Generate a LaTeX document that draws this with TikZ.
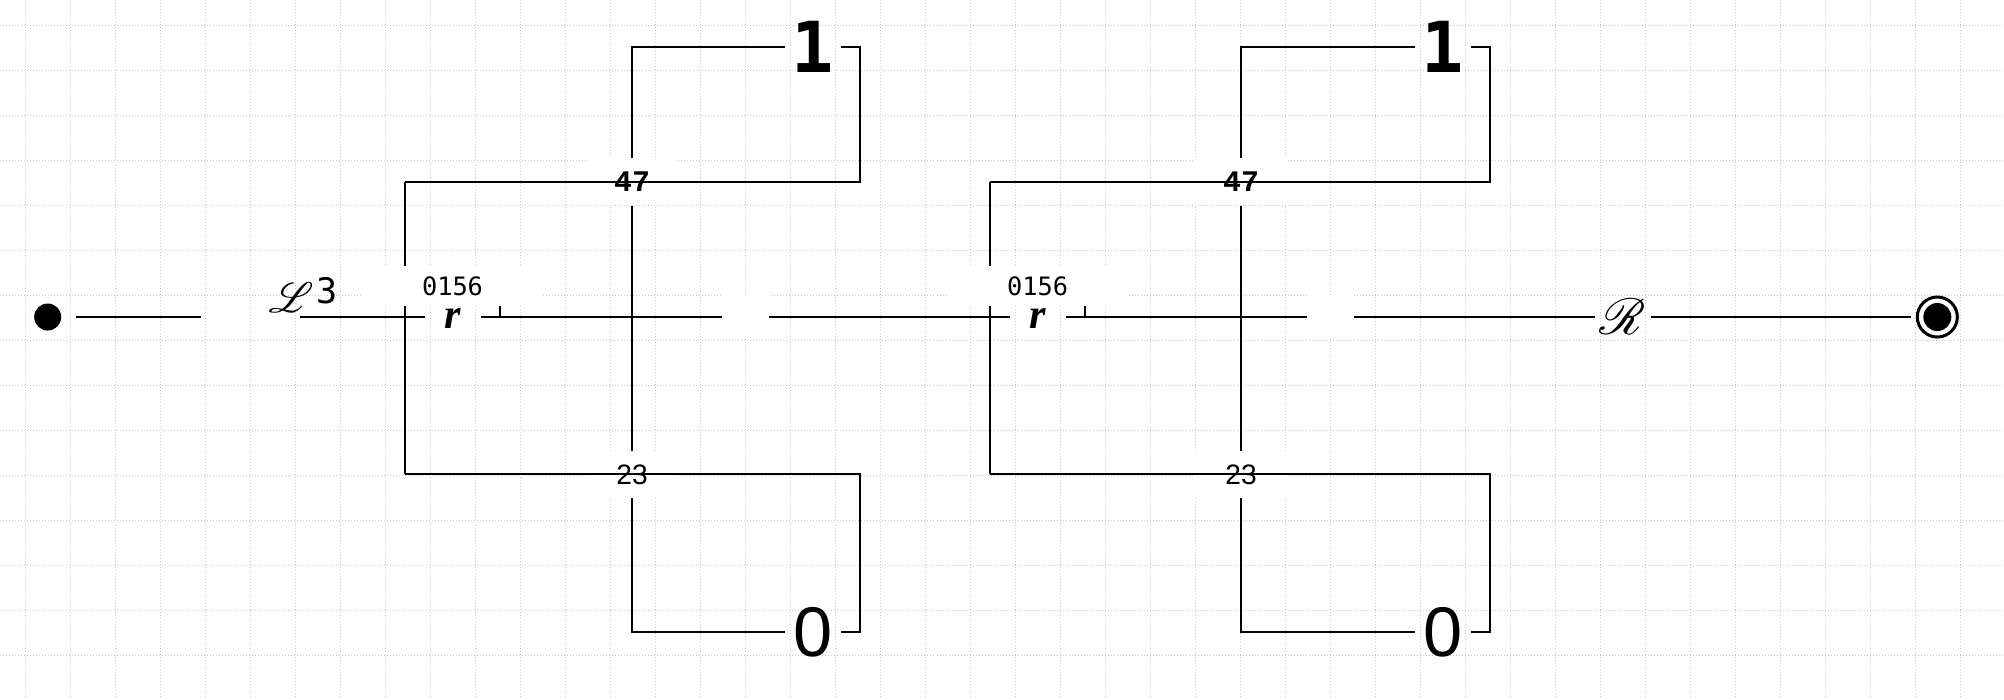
\documentclass[tikz,border=0pt]{standalone}
\usepackage{fontspec}
\usepackage{mathrsfs}
\usepackage{tikz}
\newfontfamily\dvmono{DejaVu Sans Mono}
\newfontfamily\lmono{Liberation Mono}
\newfontfamily\lsans{Liberation Sans}
\newfontfamily\lserif{Liberation Serif}
\pgfdeclarelayer{background}
\pgfsetlayers{background,main}
\tikzset{
  gridline/.style={gray!45, line width=0.01cm, dash pattern=on 0.01cm off 0.02cm},
  wire/.style={line width=0.013cm},
  startst/.style={circle, fill=black, inner sep=0pt, minimum size=0.27cm},
  endst/.style={circle, draw, line width=0.03cm, inner sep=0pt, minimum size=0.40cm,
    path picture={\fill (path picture bounding box.center) circle (0.14cm);}},
  lbl/.style={fill=white, inner sep=0pt, minimum width=1.81cm, minimum height=0.40cm,
    font=\dvmono\fontsize{7.2}{8}\selectfont},
  var/.style={inner sep=0pt, minimum width=0.54cm,
    font=\lserif\bfseries\itshape\fontsize{12}{12}\selectfont},
  lvl/.style={fill=white, inner sep=0pt, minimum width=0.92cm, minimum height=0.46cm},
  hole/.style={fill=white, inner sep=0pt, minimum width=0.46cm, minimum height=0.44cm},
  leaf/.style={inner sep=0pt, minimum width=0.54cm, minimum height=0.3cm}
}

\begin{document}
\begin{tikzpicture}[x=0.01cm, y=-0.01cm]
    \useasboundingbox (0,0) rectangle (2004,699);

    % Start, end and the two letters on the main line
    \node[startst] (start) at (47.7,317) {};
    \node[font=\fontsize{13}{13}\selectfont, inner sep=0pt] (lcal) at (291,298) {$\mathscr{L}$};
    \node[font=\dvmono\fontsize{10}{10}\selectfont, inner sep=0pt] (lidx) at (327.5,290.5) {3};
    \coordinate (c1) at (200.7,317);
    \coordinate (c2) at (300,317);
    \node[leaf, font=\fontsize{14}{14}\selectfont] (rr) at (1623,317) {$\mathscr{R}$};
    \node[endst] (fin) at (1937.3,317) {};

    % First block
    \node[lbl] (lab1) at (452.5,286) {0156};
    \node[var] (r1) at (452.8,318.5) {r};
    \node[lvl, font=\lmono\bfseries\fontsize{8.5}{9}\selectfont] (top1) at (632,182) {47};
    \node[lvl, font=\lsans\fontsize{8}{9}\selectfont] (bot1) at (632,474.5) {23};
    \node[hole] (e1) at (745.5,317) {};
    \node[leaf, font=\dvmono\bfseries\fontsize{20}{20}\selectfont] (one1) at (813,47) {1};
    \node[leaf, font=\lsans\fontsize{20}{20}\selectfont] (zero1) at (813,632) {0};
    \coordinate (ul1) at (405,182);
    \coordinate (ur1) at (860,182);
    \coordinate (ll1) at (405,474);
    \coordinate (lr1) at (860,474);
    \coordinate (tk1) at (500,317);

    % Second block
    \node[lbl] (lab2) at (1037.5,286) {0156};
    \node[var] (r2) at (1038,318.5) {r};
    \node[lvl, font=\lmono\bfseries\fontsize{8.5}{9}\selectfont] (top2) at (1241,182) {47};
    \node[lvl, font=\lsans\fontsize{8}{9}\selectfont] (bot2) at (1241,474.5) {23};
    \node[hole] (e2) at (1330.5,317) {};
    \node[leaf, font=\dvmono\bfseries\fontsize{20}{20}\selectfont] (one2) at (1443,47) {1};
    \node[leaf, font=\lsans\fontsize{20}{20}\selectfont] (zero2) at (1443,632) {0};
    \coordinate (ul2) at (990,182);
    \coordinate (ur2) at (1490,182);
    \coordinate (ll2) at (990,474);
    \coordinate (lr2) at (1490,474);
    \coordinate (tk2) at (1085,317);

    % Grid and the lines hidden by the white boxes
    \begin{pgfonlayer}{background}
        \foreach \gx in {25,70,...,1960}
            \draw[gridline] (\gx,0) -- (\gx,699);
        \foreach \gy in {25,70,...,655}
            \draw[gridline] (0,\gy) -- (2004,\gy);
        \draw[wire] (ul1) -- (ll1);
        \draw[wire] (tk1) -- ++(0,-30);
        \draw[wire] (ul2) -- (ll2);
        \draw[wire] (tk2) -- ++(0,-30);
    \end{pgfonlayer}

    % Main line
    \draw[wire, shorten <=0.14cm] (start) -- (c1);
    \draw[wire] (c2) -- (c2 -| r1.west);
    \draw[wire] (c2 -| r1.east) -- (e1);
    \draw[wire] (e1) -- (e1 -| r2.west);
    \draw[wire] (e1 -| r2.east) -- (e2);
    \draw[wire] (e2) -- (rr);
    \draw[wire, shorten >=0.05cm] (rr) -- (fin);

    % Loops of the first block
    \draw[wire] (top1) |- (one1);
    \draw[wire] (top1) -- (bot1);
    \draw[wire] (bot1) |- (zero1);
    \draw[wire] (one1) -| (ur1) -- (ul1);
    \draw[wire] (ll1) -- (lr1) |- (zero1);

    % Loops of the second block
    \draw[wire] (top2) |- (one2);
    \draw[wire] (top2) -- (bot2);
    \draw[wire] (bot2) |- (zero2);
    \draw[wire] (one2) -| (ur2) -- (ul2);
    \draw[wire] (ll2) -- (lr2) |- (zero2);
\end{tikzpicture}
\end{document}
